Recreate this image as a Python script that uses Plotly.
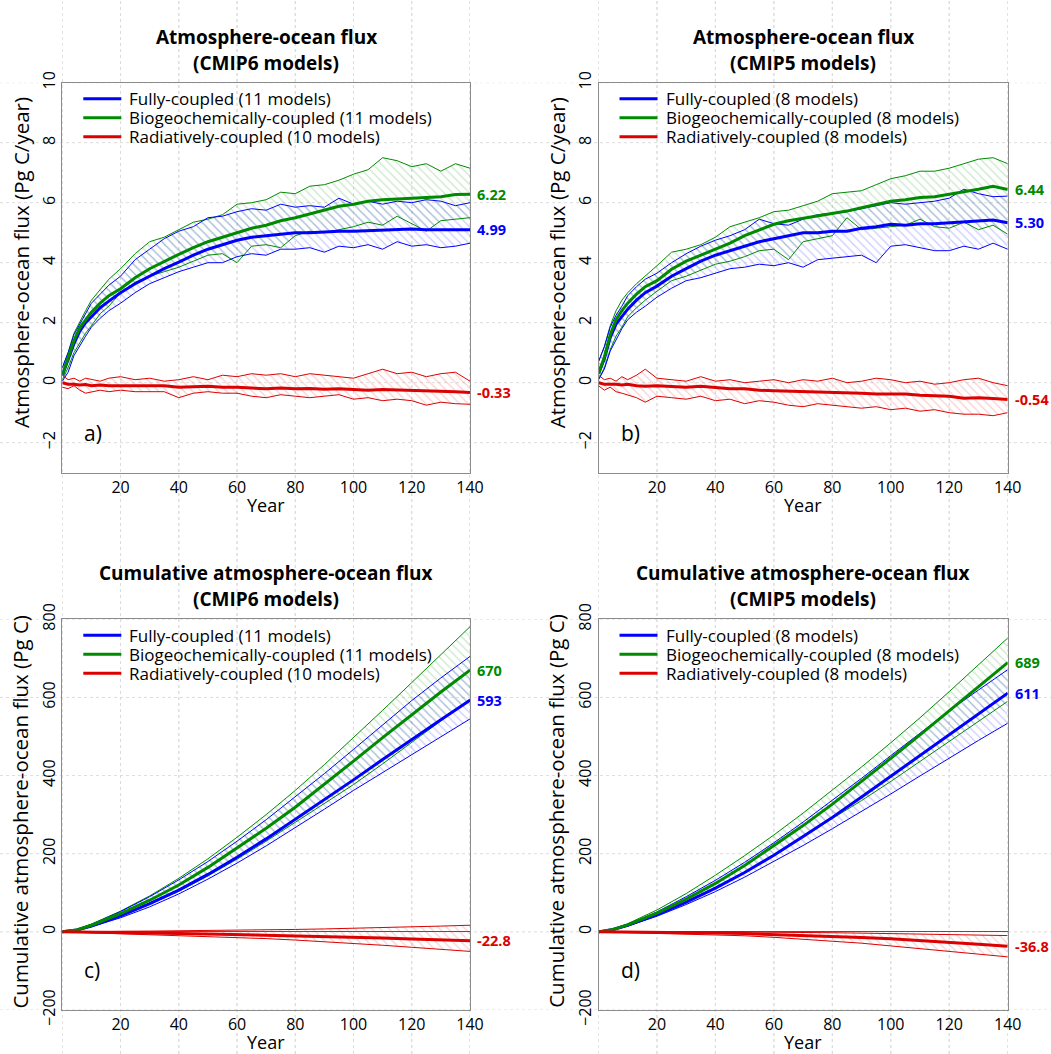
import plotly.graph_objects as go

# ---------------- data ----------------
YEARS_FLUX = [0, 2, 4, 6, 8, 10, 13, 16, 20, 25, 30, 35, 40, 45, 50, 55, 60, 65, 70,
              75, 80, 85, 90, 95, 100, 105, 110, 115, 120, 125, 130, 135, 140]

# panel a (CMIP6, annual flux, Pg C/year)
A_FULLY_MEAN = [0.25, 0.75, 1.3, 1.72, 2.0, 2.2, 2.5, 2.72, 3.0, 3.3, 3.55, 3.8, 4.02, 4.25, 4.45, 4.6, 4.75,
                4.85, 4.9, 4.95, 5.0, 5.0, 5.03, 5.05, 5.05, 5.07, 5.1, 5.12, 5.12, 5.1, 5.1, 5.08, 5.1]
A_FULLY_HI = [0.5, 1.0, 1.6, 1.95, 2.3, 2.65, 2.95, 3.25, 3.55, 4.1, 4.45, 4.8, 5.05, 5.2, 5.5, 5.55, 5.7,
              5.8, 5.75, 5.95, 5.85, 5.9, 5.85, 6.15, 5.95, 6.05, 5.95, 6.05, 6.0, 6.1, 6.05, 5.9, 6.0]
A_FULLY_LO = [0.05, 0.35, 0.9, 1.25, 1.55, 1.85, 2.15, 2.4, 2.65, 3.0, 3.3, 3.5, 3.7, 3.85, 4.0, 4.0, 4.2,
              4.3, 4.25, 4.45, 4.45, 4.5, 4.35, 4.55, 4.5, 4.6, 4.45, 4.7, 4.55, 4.6, 4.5, 4.55, 4.65]
A_BGC_MEAN = [0.25, 0.8, 1.4, 1.83, 2.1, 2.35, 2.65, 2.9, 3.13, 3.5, 3.8, 4.05, 4.28, 4.5, 4.7, 4.85, 5.0,
              5.15, 5.25, 5.4, 5.5, 5.62, 5.75, 5.88, 5.95, 6.05, 6.1, 6.12, 6.15, 6.18, 6.2, 6.27, 6.28]
A_BGC_HI = [0.5, 1.0, 1.65, 2.05, 2.4, 2.75, 3.1, 3.45, 3.8, 4.3, 4.7, 4.85, 5.1, 5.35, 5.45, 5.6, 5.95,
            6.0, 6.1, 6.35, 6.3, 6.55, 6.6, 6.75, 6.95, 7.1, 7.5, 7.4, 7.2, 7.3, 7.05, 7.3, 7.15]
A_BGC_LO = [0.1, 0.5, 1.0, 1.35, 1.65, 1.9, 2.3, 2.55, 3.0, 3.35, 3.55, 3.7, 3.85, 4.05, 4.25, 4.3, 4.0,
            4.55, 4.6, 4.5, 4.9, 5.05, 5.0, 5.1, 5.2, 5.35, 5.25, 5.55, 5.3, 5.05, 5.4, 5.45, 5.5]
A_RAD_MEAN = [0.0, -0.05, -0.05, -0.08, -0.06, -0.1, -0.08, -0.1, -0.1, -0.1, -0.12, -0.1, -0.15, -0.13, -0.12,
              -0.15, -0.15, -0.18, -0.2, -0.18, -0.2, -0.19, -0.22, -0.2, -0.23, -0.25, -0.23, -0.24, -0.26,
              -0.28, -0.27, -0.3, -0.33]
A_RAD_HI = [0.25, 0.1, 0.15, 0.05, 0.15, 0.1, 0.05, 0.15, 0.2, 0.1, 0.15, 0.05, 0.1, 0.2, 0.1, 0.25, 0.2,
            0.3, 0.25, 0.3, 0.2, 0.3, 0.25, 0.2, 0.15, 0.3, 0.45, 0.3, 0.35, 0.2, 0.3, 0.35, 0.05]
A_RAD_LO = [-0.15, -0.2, -0.1, -0.25, -0.35, -0.3, -0.25, -0.3, -0.25, -0.3, -0.3, -0.3, -0.5, -0.35, -0.3,
            -0.35, -0.35, -0.45, -0.5, -0.4, -0.45, -0.5, -0.45, -0.4, -0.55, -0.5, -0.6, -0.55, -0.6,
            -0.75, -0.65, -0.7, -0.72]

# panel b (CMIP5, annual flux, Pg C/year)
B_FULLY_MEAN = [0.3, 0.8, 1.5, 1.95, 2.2, 2.45, 2.75, 3.0, 3.22, 3.55, 3.8, 4.05, 4.25, 4.4, 4.55, 4.7, 4.8,
                4.9, 5.0, 5.0, 5.05, 5.05, 5.15, 5.2, 5.28, 5.25, 5.3, 5.3, 5.33, 5.35, 5.38, 5.42, 5.33]
B_FULLY_HI = [0.7, 1.2, 1.85, 2.25, 2.55, 2.9, 3.2, 3.45, 3.65, 4.0, 4.3, 4.55, 4.75, 4.9, 5.1, 5.45, 5.3,
              5.25, 5.45, 5.6, 5.65, 5.7, 5.8, 5.9, 6.0, 5.95, 6.0, 6.05, 6.15, 6.45, 6.3, 6.2, 6.22]
B_FULLY_LO = [0.1, 0.45, 1.05, 1.45, 1.8, 2.1, 2.35, 2.55, 2.85, 3.15, 3.4, 3.5, 3.65, 3.8, 3.85, 3.95, 3.9,
              4.0, 3.85, 4.1, 4.15, 4.2, 4.25, 4.0, 4.55, 4.6, 4.5, 4.4, 4.4, 4.55, 4.45, 4.65, 4.45]
B_BGC_MEAN = [0.3, 0.85, 1.6, 2.1, 2.4, 2.65, 2.95, 3.2, 3.4, 3.78, 4.05, 4.25, 4.45, 4.65, 4.9, 5.1, 5.28,
              5.4, 5.48, 5.55, 5.62, 5.72, 5.83, 5.95, 6.05, 6.1, 6.17, 6.2, 6.28, 6.35, 6.45, 6.55, 6.44]
B_BGC_HI = [0.7, 1.2, 1.9, 2.4, 2.75, 3.0, 3.3, 3.55, 3.9, 4.35, 4.45, 4.6, 4.85, 5.2, 5.35, 5.5, 5.7,
            5.75, 5.9, 6.05, 6.3, 6.35, 6.4, 6.6, 6.8, 6.9, 7.05, 7.05, 7.15, 7.3, 7.45, 7.5, 7.3]
B_BGC_LO = [0.1, 0.5, 1.1, 1.55, 1.85, 2.2, 2.5, 2.75, 3.05, 3.4, 3.55, 3.75, 3.95, 4.05, 4.2, 4.4, 4.45,
            4.1, 4.7, 4.8, 4.9, 5.5, 5.1, 5.15, 5.2, 5.25, 5.45, 5.2, 5.15, 5.35, 5.1, 5.25, 4.95]
B_RAD_MEAN = [0.0, -0.05, -0.05, -0.05, -0.08, -0.05, -0.1, -0.12, -0.1, -0.12, -0.15, -0.12, -0.17, -0.2,
              -0.2, -0.25, -0.27, -0.28, -0.3, -0.32, -0.33, -0.33, -0.35, -0.38, -0.39, -0.38, -0.42,
              -0.44, -0.45, -0.52, -0.5, -0.53, -0.56]
B_RAD_HI = [0.25, 0.1, 0.15, 0.05, 0.2, 0.1, 0.25, 0.45, 0.15, 0.1, 0.05, 0.2, 0.05, 0.1, 0.0, 0.05, 0.1,
            0.0, 0.1, 0.05, 0.15, 0.0, 0.05, 0.15, 0.1, 0.0, 0.05, -0.05, 0.0, 0.1, 0.15, 0.0, -0.1]
B_RAD_LO = [-0.1, -0.25, -0.15, -0.3, -0.35, -0.4, -0.5, -0.65, -0.45, -0.5, -0.55, -0.45, -0.6, -0.55,
            -0.7, -0.6, -0.65, -0.75, -0.8, -0.7, -0.75, -0.8, -0.85, -0.8, -0.9, -0.85, -0.95, -0.9,
            -1.0, -1.05, -1.05, -1.1, -1.0]

YEARS_CUM = [0, 5, 10, 15, 20, 30, 40, 50, 60, 70, 80, 90, 100, 110, 120, 130, 140]

# panel c (CMIP6, cumulative, Pg C)
C_FULLY_MEAN = [0, 5, 15, 27, 41, 72, 107, 147, 191, 238, 288, 337, 389, 441, 493, 543, 593]
C_FULLY_HI = [0, 6, 19, 35, 52, 90, 133, 180, 232, 287, 345, 405, 467, 530, 592, 650, 705]
C_FULLY_LO = [0, 4, 13, 24, 36, 64, 97, 135, 176, 220, 266, 314, 362, 408, 454, 500, 545]
C_BGC_MEAN = [0, 5, 17, 31, 47, 81, 120, 165, 214, 265, 319, 377, 437, 497, 556, 614, 670]
C_BGC_HI = [0, 7, 20, 36, 53, 92, 137, 187, 242, 300, 362, 428, 497, 567, 638, 710, 781]
C_BGC_LO = [0, 4, 14, 26, 40, 70, 104, 143, 186, 232, 281, 328, 377, 430, 484, 540, 596]
C_RAD_MEAN = [0, -0.3, -0.6, -1.0, -1.5, -2.6, -3.9, -5.3, -6.8, -8.4, -10.1, -11.9, -13.8, -15.9, -18.1, -20.4, -22.8]
C_RAD_HI = [0, 0.8, 1.2, 1.4, 1.6, 2.0, 2.5, 3.2, 4.0, 5.0, 6.2, 7.5, 9.0, 10.8, 12.7, 14.8, 17.0]
C_RAD_LO = [0, -1.2, -2.2, -3.2, -4.2, -6.2, -8.5, -11, -14, -17.3, -21, -25, -29.5, -34.3, -39.5, -44.8, -50]

# panel d (CMIP5, cumulative, Pg C)
D_FULLY_MEAN = [0, 6, 17, 30, 44, 76, 112, 152, 196, 244, 293, 345, 398, 452, 505, 558, 611]
D_FULLY_HI = [0, 6, 19, 35, 51, 90, 132, 178, 228, 281, 336, 393, 451, 509, 566, 619, 671]
D_FULLY_LO = [0, 5, 15, 27, 40, 70, 103, 140, 180, 221, 264, 308, 353, 399, 445, 490, 534]
D_BGC_MEAN = [0, 6, 18, 33, 48, 84, 124, 170, 220, 272, 327, 385, 444, 504, 565, 627, 689]
D_BGC_HI = [0, 7, 21, 38, 56, 98, 145, 195, 248, 304, 362, 422, 484, 548, 615, 683, 752]
D_BGC_LO = [0, 5, 15, 28, 42, 74, 111, 152, 196, 242, 290, 336, 385, 436, 488, 539, 590]
D_RAD_MEAN = [0, -0.2, -0.5, -0.8, -1.2, -2.0, -3.0, -4.5, -6.5, -8.8, -11.3, -14.3, -17.8, -21.8, -26.3, -31.5, -36.8]
D_RAD_HI = [0, 0.5, 0.8, 0.8, 0.8, 0.6, 0.4, 0, -0.5, -1.2, -2.2, -3.2, -4.3, -5.5, -6.8, -8.1, -9.5]
D_RAD_LO = [0, -1, -1.8, -2.5, -3.2, -5, -7, -10, -14, -18.5, -23, -29, -36, -43, -50, -57, -64]

END_LABELS = {
    "a": ["4.99", "6.22", "-0.33"],
    "b": ["5.30", "6.44", "-0.54"],
    "c": ["593", "670", "-22.8"],
    "d": ["611", "689", "-36.8"],
}
X_TICKS = [20, 40, 60, 80, 100, 120, 140]
Y_TICKS_FLUX = [-2, 0, 2, 4, 6, 8, 10]
Y_TICKS_CUM = [-200, 0, 200, 400, 600, 800]

# ---------------- styling ----------------
W, H = 1051, 1054
FONT = "Open Sans"
BLUE, GREEN, RED = "#0000ff", "#008a00", "#dd0000"
HATCH = {BLUE: "rgba(60,60,255,0.55)", GREEN: "rgba(40,160,40,0.5)", RED: "rgba(235,60,60,0.5)"}
GRID = "#dcdcdc"
FRAME = "#8c8c8c"


def px(x):
    return x / W


def py(y):
    return 1 - y / H


# plot-area frames in window pixels: (left, right, top, bottom)
FRAMES = {
    "a": (62.3, 470.0, 82.7, 472.7),
    "b": (598.5, 1007.7, 82.7, 472.7),
    "c": (62.3, 470.0, 619.3, 1010.0),
    "d": (598.5, 1007.7, 619.3, 1010.0),
}

panels = [
    dict(key="a", n="", yr=[-3, 10], yt=Y_TICKS_FLUX, years=YEARS_FLUX, cmip="CMIP6",
         title="Atmosphere-ocean flux", ytitle="Atmosphere-ocean flux (Pg C/year)",
         counts=(11, 11, 10),
         series=[(A_FULLY_MEAN, A_FULLY_HI, A_FULLY_LO), (A_BGC_MEAN, A_BGC_HI, A_BGC_LO),
                 (A_RAD_MEAN, A_RAD_HI, A_RAD_LO)]),
    dict(key="b", n="2", yr=[-3, 10], yt=Y_TICKS_FLUX, years=YEARS_FLUX, cmip="CMIP5",
         title="Atmosphere-ocean flux", ytitle="Atmosphere-ocean flux (Pg C/year)",
         counts=(8, 8, 8),
         series=[(B_FULLY_MEAN, B_FULLY_HI, B_FULLY_LO), (B_BGC_MEAN, B_BGC_HI, B_BGC_LO),
                 (B_RAD_MEAN, B_RAD_HI, B_RAD_LO)]),
    dict(key="c", n="3", yr=[-200, 800], yt=Y_TICKS_CUM, years=YEARS_CUM, cmip="CMIP6",
         title="Cumulative atmosphere-ocean flux", ytitle="Cumulative atmosphere-ocean flux (Pg C)",
         counts=(11, 11, 10),
         series=[(C_FULLY_MEAN, C_FULLY_HI, C_FULLY_LO), (C_BGC_MEAN, C_BGC_HI, C_BGC_LO),
                 (C_RAD_MEAN, C_RAD_HI, C_RAD_LO)]),
    dict(key="d", n="4", yr=[-200, 800], yt=Y_TICKS_CUM, years=YEARS_CUM, cmip="CMIP5",
         title="Cumulative atmosphere-ocean flux", ytitle="Cumulative atmosphere-ocean flux (Pg C)",
         counts=(8, 8, 8),
         series=[(D_FULLY_MEAN, D_FULLY_HI, D_FULLY_LO), (D_BGC_MEAN, D_BGC_HI, D_BGC_LO),
                 (D_RAD_MEAN, D_RAD_HI, D_RAD_LO)]),
]

NAMES = ["Fully-coupled", "Biogeochemically-coupled", "Radiatively-coupled"]
COLORS = [BLUE, GREEN, RED]

fig = go.Figure()
annotations = []
shapes = []

for p in panels:
    n = p["n"]
    xa, ya = "x" + n, "y" + n
    years = p["years"]
    left_px, right_px, top_px, bot_px = FRAMES[p["key"]]
    xdom = [px(left_px), px(right_px)]
    ydom = [py(bot_px), py(top_px)]
    xc_px = (left_px + right_px) / 2

    # hatched ranges
    for (mean, hi, lo), col in zip(p["series"][::-1], COLORS[::-1]):
        fig.add_trace(go.Scatter(
            x=years + years[::-1], y=hi + lo[::-1], xaxis=xa, yaxis=ya,
            mode="lines", line=dict(width=0), fill="toself", fillcolor="rgba(0,0,0,0)",
            fillpattern=dict(shape="\\", fgcolor=HATCH[col], bgcolor="rgba(0,0,0,0)", size=6, solidity=0.2),
            hoverinfo="skip", showlegend=False))
    # model spread bounds
    for (mean, hi, lo), col in zip(p["series"][::-1], COLORS[::-1]):
        for arr in (hi, lo):
            fig.add_trace(go.Scatter(x=years, y=arr, xaxis=xa, yaxis=ya, mode="lines",
                                     line=dict(color=col, width=1), showlegend=False, hoverinfo="skip"))
    # multi-model means
    for (mean, hi, lo), col, name, cnt in zip(p["series"], COLORS, NAMES, p["counts"]):
        fig.add_trace(go.Scatter(x=years, y=mean, xaxis=xa, yaxis=ya, mode="lines",
                                 line=dict(color=col, width=3),
                                 name=f"{name} ({cnt} models)", showlegend=False))
    # end labels
    for (mean, hi, lo), col, lab in zip(p["series"], COLORS, END_LABELS[p["key"]]):
        annotations.append(dict(x=years[-1], y=mean[-1], xref=xa, yref=ya, text=f"<b>{lab}</b>",
                                showarrow=False, xanchor="left", yanchor="middle", xshift=5,
                                font=dict(family=FONT, size=14.5, color=col)))

    # two-line title
    for txt, dy in ((p["title"], 46), (f"({p['cmip']} models)", 20)):
        annotations.append(dict(x=px(xc_px), y=py(top_px - dy), xref="paper", yref="paper",
                                text=f"<b>{txt}</b>", showarrow=False,
                                xanchor="center", yanchor="middle",
                                font=dict(family=FONT, size=19, color="black")))
    # y title
    ymid = top_px + 180 if p["key"] in ("a", "b") else top_px + 192
    annotations.append(dict(x=px(left_px - 42), y=py(ymid), xref="paper", yref="paper",
                            text=p["ytitle"], textangle=-90, showarrow=False,
                            xanchor="center", yanchor="middle",
                            font=dict(family=FONT, size=20.5, color="black")))
    # x title
    annotations.append(dict(x=px(xc_px), y=py(bot_px + 32), xref="paper", yref="paper",
                            text="Year", showarrow=False, xanchor="center", yanchor="middle",
                            font=dict(family=FONT, size=18, color="black")))
    # panel letter
    annotations.append(dict(x=px(left_px + 20), y=py(bot_px - 40), xref="paper", yref="paper",
                            text=p["key"] + ")", showarrow=False, xanchor="left", yanchor="middle",
                            font=dict(family=FONT, size=21, color="black")))
    # legend (drawn inside the plot, top-left)
    for i, (name, col, cnt) in enumerate(zip(NAMES, COLORS, p["counts"])):
        row = top_px + 16 + 19 * i
        shapes.append(dict(type="line", xref="paper", yref="paper",
                           x0=px(left_px + 21), x1=px(left_px + 59), y0=py(row), y1=py(row),
                           line=dict(color=col, width=3)))
        annotations.append(dict(x=px(left_px + 65), y=py(row), xref="paper", yref="paper",
                                text=f"{name} ({cnt} models)", showarrow=False,
                                xanchor="left", yanchor="middle",
                                font=dict(family=FONT, size=17, color="black")))

    axis_common = dict(showgrid=False, showline=True, linecolor=FRAME, linewidth=1, mirror=True,
                       ticks="", tickfont=dict(family=FONT, size=16, color="black"))
    fig.update_layout(**{
        "xaxis" + n: dict(domain=xdom, range=[0, 140], tickvals=X_TICKS, anchor=ya,
                          zeroline=False, **axis_common),
        "yaxis" + n: dict(domain=ydom, range=p["yr"], tickvals=p["yt"], anchor=xa, tickangle=-90,
                          zeroline=(p["key"] in ("c", "d")), zerolinecolor="#555555", zerolinewidth=1,
                          **axis_common),
    })

    # background dotted grid across the whole figure
    for t in range(0, 141, 20):
        shapes.append(dict(type="line", xref=xa, yref="paper", x0=t, x1=t, y0=0, y1=1,
                           line=dict(color=GRID, width=1, dash="dot"), layer="below"))
    if p["key"] in ("a", "c"):
        for t in p["yt"]:
            shapes.append(dict(type="line", xref="paper", yref=ya, x0=0, x1=1, y0=t, y1=t,
                               line=dict(color=GRID, width=1, dash="dot"), layer="below"))

fig.update_layout(
    width=W, height=H, margin=dict(l=0, r=0, t=0, b=0, pad=0, autoexpand=False),
    paper_bgcolor="white", plot_bgcolor="white",
    font=dict(family=FONT, color="black"),
    showlegend=False,
    annotations=annotations, shapes=shapes,
)

fig.write_html("out.html", config={"displayModeBar": False, "responsive": False},
               post_script="document.body.style.margin='0px';"
                           "document.documentElement.style.overflow='hidden';")
